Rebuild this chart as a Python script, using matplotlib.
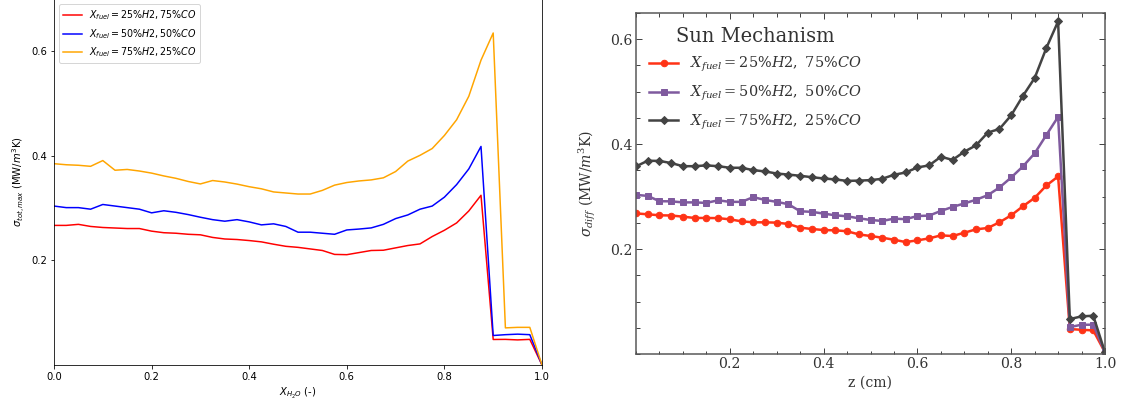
import numpy as np
import matplotlib
matplotlib.use('Agg')
import matplotlib.pyplot as plt
from matplotlib.ticker import MultipleLocator

# x positions shared by all curves
x = [0.0, 0.025, 0.05, 0.075, 0.1, 0.125, 0.15, 0.175, 0.2, 0.225, 0.25,
     0.275, 0.3, 0.325, 0.35, 0.375, 0.4, 0.425, 0.45, 0.475, 0.5,
     0.525, 0.55, 0.575, 0.6, 0.625, 0.65, 0.675, 0.7, 0.725, 0.75,
     0.775, 0.8, 0.825, 0.85, 0.875, 0.9, 0.925, 0.95, 0.975, 1.0]

labels_left = [r'$X_{fuel} = 25\%H2, 75\%CO$',
               r'$X_{fuel} = 50\%H2, 50\%CO$',
               r'$X_{fuel} = 75\%H2, 25\%CO$']
labels_right = [r'$X_{fuel} = 25\%H2,\ 75\%CO$',
                r'$X_{fuel} = 50\%H2,\ 50\%CO$',
                r'$X_{fuel} = 75\%H2,\ 25\%CO$']

# left panel: sigma_tot,max vs X_H2O
tot_25 = [0.267, 0.267, 0.269, 0.265, 0.263, 0.262, 0.261, 0.261, 0.256, 0.253, 0.252,
          0.250, 0.249, 0.244, 0.241, 0.240, 0.238, 0.2355, 0.231, 0.227, 0.225,
          0.222, 0.219, 0.2115, 0.211, 0.215, 0.219, 0.2195, 0.224, 0.2285, 0.2316,
          0.2457, 0.2577, 0.2717, 0.2946, 0.3246, 0.0488, 0.049, 0.048, 0.049, 0.0]
tot_50 = [0.304, 0.301, 0.301, 0.298, 0.307, 0.304, 0.301, 0.298, 0.291, 0.295, 0.292,
          0.2877, 0.2826, 0.278, 0.275, 0.278, 0.2737, 0.268, 0.270, 0.265, 0.254,
          0.254, 0.252, 0.250, 0.2583, 0.260, 0.2622, 0.269, 0.280, 0.287, 0.298,
          0.304, 0.321, 0.345, 0.375, 0.418, 0.0564, 0.058, 0.059, 0.058, 0.0]
tot_75 = [0.385, 0.383, 0.382, 0.380, 0.391, 0.3725, 0.374, 0.371, 0.367, 0.3616, 0.357,
          0.351, 0.3463, 0.3528, 0.350, 0.346, 0.341, 0.337, 0.331, 0.329, 0.327,
          0.327, 0.334, 0.344, 0.349, 0.352, 0.354, 0.358, 0.370, 0.390, 0.401,
          0.414, 0.439, 0.469, 0.514, 0.583, 0.635, 0.071, 0.072, 0.072, 0.0]

# right panel: sigma_diff vs z
diff_25 = [0.268, 0.2663, 0.2644, 0.264, 0.2618, 0.2593, 0.2593, 0.259, 0.2567, 0.2529, 0.251,
           0.251, 0.2504, 0.2478, 0.2408, 0.2383, 0.2363, 0.2357, 0.234, 0.228, 0.2249,
           0.2217, 0.2178, 0.2134, 0.2166, 0.2204, 0.2261, 0.2249, 0.2312, 0.2376, 0.2402,
           0.251, 0.2644, 0.2816, 0.2976, 0.3212, 0.3384, 0.0475, 0.0462, 0.045, 0.003]
diff_50 = [0.3033, 0.3014, 0.2912, 0.291, 0.289, 0.289, 0.288, 0.293, 0.290, 0.290, 0.299,
           0.2937, 0.290, 0.2855, 0.272, 0.271, 0.2676, 0.2644, 0.2625, 0.2587, 0.2555,
           0.2536, 0.258, 0.257, 0.263, 0.2638, 0.2727, 0.2803, 0.287, 0.294, 0.3027,
           0.3174, 0.3365, 0.3576, 0.3824, 0.4175, 0.452, 0.0513, 0.0558, 0.0558, 0.003]
diff_75 = [0.3576, 0.3684, 0.368, 0.364, 0.358, 0.358, 0.3595, 0.358, 0.355, 0.355, 0.3505,
           0.348, 0.344, 0.342, 0.3397, 0.337, 0.3346, 0.3327, 0.330, 0.3305, 0.3314,
           0.334, 0.3416, 0.346, 0.3556, 0.3595, 0.376, 0.370, 0.3856, 0.3977, 0.422,
           0.429, 0.455, 0.492, 0.526, 0.5834, 0.634, 0.0666, 0.0717, 0.073, 0.003]

fig = plt.figure(figsize=(1123 / 72, 408 / 72), dpi=72)

# ---- left panel (plain matplotlib look) ----
ax1 = fig.add_axes([54 / 1123, 43 / 408, 488 / 1123, 366 / 408])
ax1.plot(x, tot_25, color='red', lw=1.5, label=labels_left[0])
ax1.plot(x, tot_50, color='blue', lw=1.5, label=labels_left[1])
ax1.plot(x, tot_75, color='orange', lw=1.5, label=labels_left[2])
ax1.set_xlim(0, 1)
ax1.set_ylim(0, 0.7)
ax1.set_xticks([0.0, 0.2, 0.4, 0.6, 0.8, 1.0])
ax1.set_yticks([0.2, 0.4, 0.6])
ax1.tick_params(labelsize=10)
ax1.set_xlabel(r'$X_{H_2O}$ (-)', fontsize=10)
ax1.set_ylabel(r'$\sigma_{tot,max}$ (MW/$m^3$K)', fontsize=10)
ax1.legend(loc='upper left', fontsize=9.5, bbox_to_anchor=(0.0, 0.998))

# ---- right panel (serif style, markers, inward ticks) ----
with plt.rc_context({'font.family': 'DejaVu Serif', 'mathtext.fontset': 'dejavuserif'}):
    ax2 = fig.add_axes([636 / 1123, 54 / 408, 469 / 1123, 341 / 408])
    ax2.plot(x, diff_25, color='#ff3316', lw=2.5, marker='o', ms=6.5, label=labels_right[0])
    ax2.plot(x, diff_50, color='#7f5a9e', lw=2.5, marker='s', ms=6, label=labels_right[1])
    ax2.plot(x, diff_75, color='#434343', lw=2.5, marker='D', ms=6, label=labels_right[2])
    ax2.set_xlim(0, 1)
    ax2.set_ylim(0, 0.65)
    ax2.set_xticks([0.2, 0.4, 0.6, 0.8, 1.0])
    ax2.set_yticks([0.2, 0.4, 0.6])
    ax2.xaxis.set_minor_locator(MultipleLocator(0.05))
    ax2.yaxis.set_minor_locator(MultipleLocator(0.05))
    ax2.tick_params(which='both', direction='in', top=True, right=True,
                    colors='#444444', labelsize=14, labelcolor='#333333')
    ax2.tick_params(which='major', length=6, width=1)
    ax2.tick_params(which='minor', length=3.5, width=1)
    for sp in ax2.spines.values():
        sp.set_color('#555555')
        sp.set_linewidth(1.5)
    ax2.set_xlabel('z (cm)', fontsize=14, color='#333333')
    ax2.set_ylabel(r'$\sigma_{diff}$ (MW/$m^3$K)', fontsize=14, color='#333333', labelpad=12)
    leg = ax2.legend(loc='upper left', frameon=False, fontsize=14.5, labelspacing=0.65,
                     title='Sun Mechanism', title_fontsize=19.5,
                     bbox_to_anchor=(0.0, 0.998))
    for t in leg.get_texts():
        t.set_color('#333333')
    leg.get_title().set_color('#333333')

fig.savefig('out.png', dpi=72)
